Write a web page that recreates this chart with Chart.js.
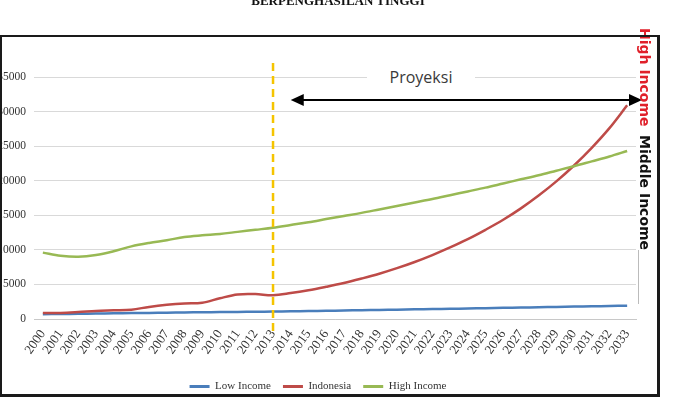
<!DOCTYPE html>
<html><head><meta charset="utf-8">
<script src="https://cdn.jsdelivr.net/npm/chart.js@4.4.0/dist/chart.umd.min.js"></script>
<style>
html,body{margin:0;padding:0;background:#fff;width:676px;height:402px;overflow:hidden;}
#wrap{position:relative;width:676px;height:402px;}
#c{position:absolute;left:0;top:0;}
.title{position:absolute;left:0;width:676px;top:-6px;text-align:center;font:bold 13px 'Liberation Serif';line-height:13px;color:#111;}
.proj{position:absolute;left:367px;top:66px;width:108px;height:22px;background:#fff;font:16px 'Open Sans';line-height:22px;text-align:center;color:#3a3a3a;}
.vt{position:absolute;writing-mode:vertical-rl;font:bold 14px 'DejaVu Sans';line-height:16px;white-space:nowrap;}
.fr{position:absolute;background:#1a1a1a;z-index:5;}
</style></head>
<body>
<div id="wrap">
<canvas id="c" width="676" height="402"></canvas>
<div class="title">BERPENGHASILAN TINGGI</div>
<div class="proj">Proyeksi</div>
<div class="vt" style="left:637px;top:28px;color:#e0202a;">High Income</div>
<div class="vt" style="left:637px;top:135px;color:#111;">Middle Income</div>
<div class="fr" style="left:0px;top:35px;width:660px;height:2px;"></div>
<div class="fr" style="left:0px;top:35px;width:2px;height:362px;"></div>
<div class="fr" style="left:657px;top:35px;width:3px;height:362px;"></div>
<div class="fr" style="left:0px;top:394px;width:660px;height:3px;"></div>
</div>
<script>
const years = ['2000','2001','2002','2003','2004','2005','2006','2007','2008','2009','2010','2011','2012','2013','2014','2015','2016','2017','2018','2019','2020','2021','2022','2023','2024','2025','2026','2027','2028','2029','2030','2031','2032','2033'];
const lowIncome = [700,720,750,780,820,850,880,910,950,980,1000,1030,1050,1080,1110,1150,1190,1230,1270,1310,1350,1400,1440,1480,1520,1560,1610,1650,1700,1740,1790,1840,1880,1930];
const indonesia = [850,880,1000,1150,1250,1350,1750,2050,2250,2350,3000,3550,3600,3450,3750,4150,4650,5200,5850,6550,7350,8250,9250,10350,11550,12900,14350,16000,17850,19900,22200,24750,27600,30900];
const highIncome = [9600,9150,9000,9250,9800,10500,11000,11400,11850,12100,12300,12600,12900,13200,13600,14000,14450,14900,15350,15850,16350,16850,17350,17900,18450,19000,19600,20200,20800,21450,22100,22800,23500,24300];
const seriesNames = ['Low Income','Indonesia','High Income'];
const yMax = 35000, yStep = 5000;
const projectionStart = '2013';
const arrowStart = '2014';

const overlay = {
  id:'overlay',
  afterDatasetsDraw(chart){
    const {ctx, chartArea, scales:{x}} = chart;
    ctx.save();
    const xp = x.getPixelForValue(years.indexOf(projectionStart));
    ctx.strokeStyle = '#f5c400';
    ctx.lineWidth = 2.5;
    ctx.setLineDash([8,5]);
    ctx.beginPath(); ctx.moveTo(xp, 63); ctx.lineTo(xp, 336); ctx.stroke();
    ctx.setLineDash([]);
    const xa = x.getPixelForValue(years.indexOf(arrowStart));
    const xb = chartArea.right + 6;
    const ya = 100;
    ctx.strokeStyle = '#000'; ctx.fillStyle = '#000'; ctx.lineWidth = 2;
    ctx.beginPath(); ctx.moveTo(xa+10, ya); ctx.lineTo(xb-10, ya); ctx.stroke();
    ctx.beginPath(); ctx.moveTo(xa, ya); ctx.lineTo(xa+13, ya-6); ctx.lineTo(xa+13, ya+6); ctx.closePath(); ctx.fill();
    ctx.beginPath(); ctx.moveTo(xb, ya); ctx.lineTo(xb-13, ya-6); ctx.lineTo(xb-13, ya+6); ctx.closePath(); ctx.fill();
    ctx.strokeStyle = '#bbb'; ctx.lineWidth = 1;
    ctx.beginPath(); ctx.moveTo(638.5, 250); ctx.lineTo(638.5, 304); ctx.stroke();
    ctx.restore();
  }
};

new Chart(document.getElementById('c'), {
  type:'line',
  data:{
    labels: years,
    datasets:[
      {label:seriesNames[0], data:lowIncome, borderColor:'#4a7ebb', backgroundColor:'#4a7ebb', borderWidth:2.5, pointRadius:0, tension:0.35, order:2},
      {label:seriesNames[1], data:indonesia, borderColor:'#be4b48', backgroundColor:'#be4b48', borderWidth:2.5, pointRadius:0, tension:0.35, order:1},
      {label:seriesNames[2], data:highIncome, borderColor:'#98b954', backgroundColor:'#98b954', borderWidth:2.5, pointRadius:0, tension:0.35, order:0}
    ]
  },
  options:{
    responsive:false, animation:false,
    layout:{padding:{top:77,left:0,right:40,bottom:0}},
    plugins:{
      legend:{position:'bottom', labels:{boxWidth:20, boxHeight:3, padding:12, color:'#333', font:{family:'Liberation Serif', size:11},
        sort:(a,b)=>a.datasetIndex-b.datasetIndex,
        generateLabels(chart){ const items = Chart.defaults.plugins.legend.labels.generateLabels(chart); items.forEach(i=>{i.lineWidth=0; i.fillStyle=i.strokeStyle;}); return items; }}},
      tooltip:{enabled:false}
    },
    scales:{
      x:{offset:true, grid:{display:false, drawTicks:false}, border:{display:true,color:'#c8c8c8'},
         ticks:{autoSkip:false, minRotation:55, maxRotation:55, padding:8, color:'#333', font:{family:'Liberation Serif', size:13}},
         afterFit(s){ s.height = 50; }},
      y:{min:0, max:yMax, grid:{color:'#d9d9d9', drawTicks:false}, border:{display:false},
         ticks:{stepSize:yStep, padding:8, color:'#333', font:{family:'Liberation Serif', size:11.5}, callback:(v)=>String(v)},
         afterFit(s){ s.width = 34; }}
    }
  },
  plugins:[overlay]
});
</script>
</body></html>
